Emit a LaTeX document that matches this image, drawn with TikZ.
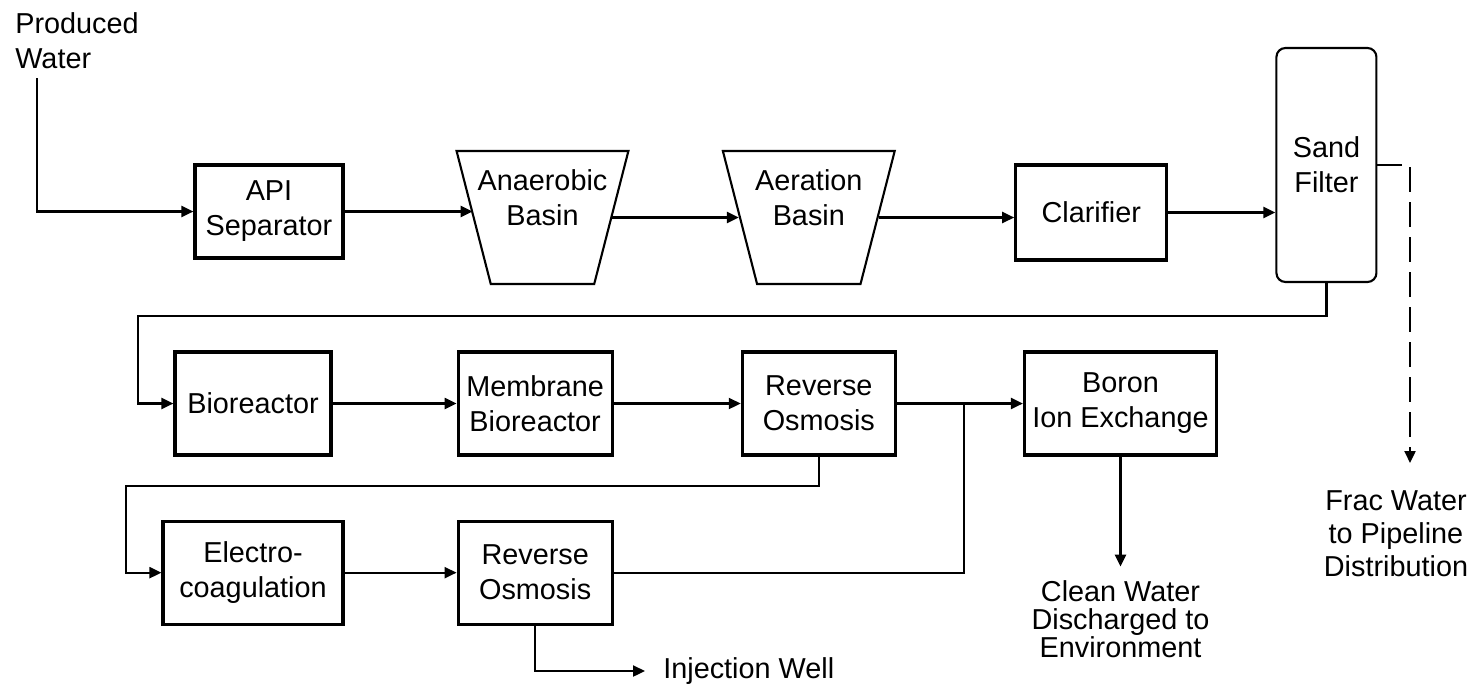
\documentclass[tikz,border=0pt]{standalone}
\usepackage{fontspec}
\setmainfont{Liberation Sans}
\usetikzlibrary{positioning,shapes.geometric,arrows.meta}

\begin{document}
\begin{tikzpicture}[
  font=\fontsize{16.4}{19.9}\selectfont,
  node distance=2.5cm,
  unit/.style={draw, line width=1.8pt, align=center, inner sep=0pt,
               minimum width=3.08cm, minimum height=2.06cm},
  basin/.style={draw, line width=1.2pt, trapezium, shape border rotate=180,
                trapezium angle=71.7, trapezium stretches=true,
                minimum width=3.44cm, minimum height=2.66cm},
  filter/.style={draw, line width=1.2pt, rounded corners=0.18cm, align=center,
                 minimum width=2cm, minimum height=4.68cm},
  outlet/.style={align=center, inner sep=0.1cm},
  arrow/.style={-{Triangle[length=0.24cm,width=0.22cm]}, line width=1.3pt},
  pipe/.style={line width=1.3pt},
  dasharrow/.style={arrow, dash pattern=on 0.5cm off 0.2cm}
]
  \useasboundingbox (0,0) rectangle (29.56,-13.76);

  % first train
  \node[outlet, align=left, anchor=north west] (prod) at (0.2,-0.14) {Produced\\Water};
  \coordinate (pw) at (0.74,-1.56);
  \node[unit, minimum width=2.96cm, minimum height=1.86cm] (api) at (5.38,-4.23) {API\\Separator};
  \node[basin, right=2.56cm of api, yshift=-0.12cm,
        label={[align=center, yshift=0.4cm]center:Anaerobic\\Basin}] (anaer) {};
  \node[basin, right=2.53cm of anaer,
        label={[align=center, yshift=0.4cm]center:Aeration\\Basin}] (aer) {};
  \node[unit, right=2.71cm of aer, yshift=0.1cm, minimum width=3.02cm, minimum height=1.9cm] (clar) {Clarifier};
  \node[filter, right=2.14cm of clar, yshift=0.95cm] (sand) {Sand\\Filter};
  \coordinate (fracend) at (28.2,-9.26);
  \node[outlet, below=0.44cm of fracend, xshift=-0.28cm,
        font=\fontsize{16.4}{19}\selectfont] (frac) {Frac Water\\to Pipeline\\Distribution};

  % second train
  \coordinate (loopa) at (2.76,-6.32);
  \node[unit, minimum width=3.12cm] (bio) at (5.06,-8.07) {Bioreactor};
  \node[unit, right=2.48cm of bio] (mem) {Membrane\\Bioreactor};
  \node[unit, right=2.54cm of mem, minimum width=3.06cm] (ro1) {Reverse\\Osmosis};
  \node[unit, right=2.52cm of ro1, minimum width=3.84cm] (boron) {Boron\\Ion Exchange};
  \coordinate (merge) at (19.28,-8.07);
  \node[outlet, inner ysep=0.28cm, below=2.2cm of boron,
        font=\fontsize{16.4}{15.9}\selectfont] (clean) {Clean Water\\Discharged to\\Environment};

  % third train
  \coordinate (loopb) at (2.52,-9.72);
  \node[unit, below=1.26cm of bio, minimum width=3.6cm] (elec) {Electro-\\coagulation};
  \node[unit, below=1.26cm of mem] (ro2) {Reverse\\Osmosis};
  \node[outlet, inner xsep=0.36cm, anchor=west] (inj) at (12.9,-13.42) {Injection Well};

  \draw[arrow] (pw) |- (api);
  \draw[arrow] (api) -- (api -| anaer.west);
  \draw[arrow] (anaer) -- (aer);
  \draw[arrow] (aer) -- (aer -| clar.west);
  \draw[arrow] (clar) -- (clar -| sand.west);
  \draw[dasharrow] (sand) -| (fracend);

  \draw[arrow] (sand.south) |- (loopa) |- (bio);
  \draw[arrow] (bio) -- (mem);
  \draw[arrow] (mem) -- (ro1);
  \draw[arrow] (ro1) -- (boron);
  \draw[arrow] (boron) -- (boron |- clean.north);

  \draw[arrow] (ro1.south) |- (loopb) |- (elec);
  \draw[arrow] (elec) -- (ro2);
  \draw[pipe] (ro2) -| (merge);
  \draw[arrow] (ro2.south) |- (inj.west);
\end{tikzpicture}
\end{document}
